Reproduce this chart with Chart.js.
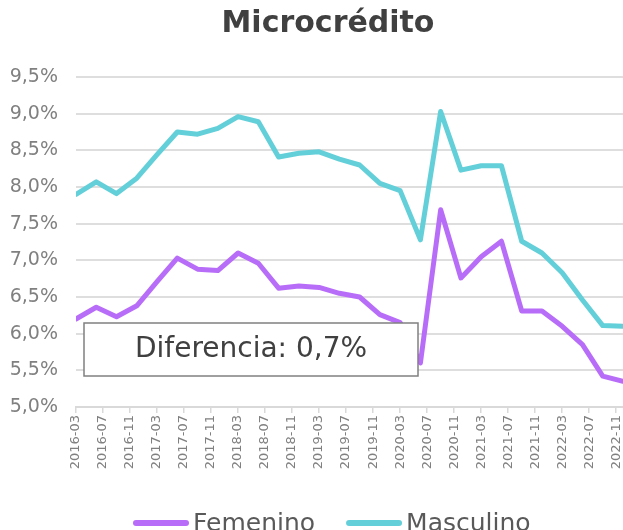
<!DOCTYPE html>
<html>
<head>
<meta charset="utf-8">
<script src="https://cdn.jsdelivr.net/npm/chart.js@4"></script>
<style>
  html, body { margin: 0; padding: 0; background: #fff; }
  #wrap { width: 623px; height: 530px; }
</style>
</head>
<body>
<div id="wrap"><canvas id="grafico" width="623" height="530"></canvas></div>
<script>
const fechas = [
  "2016-03", "2016-06", "2016-09", "2016-12",
  "2017-03", "2017-06", "2017-09", "2017-12",
  "2018-03", "2018-06", "2018-09", "2018-12",
  "2019-03", "2019-06", "2019-09", "2019-12",
  "2020-03", "2020-06", "2020-09", "2020-12",
  "2021-03", "2021-06", "2021-09", "2021-12",
  "2022-03", "2022-06", "2022-09", "2022-12",
];
const femenino = [
  6.2, 6.36, 6.23, 6.38, 6.71, 7.03, 6.88, 6.86, 7.1, 6.96, 6.62, 6.65, 6.63, 6.55,
  6.5, 6.26, 6.15, 5.6, 7.69, 6.76, 7.05, 7.26, 6.31, 6.31, 6.1, 5.85, 5.42, 5.35,
];
const masculino = [
  7.9, 8.07, 7.91, 8.12, 8.44, 8.75, 8.72, 8.8, 8.96, 8.89, 8.41, 8.46, 8.48, 8.38,
  8.3, 8.05, 7.95, 7.28, 9.03, 8.23, 8.29, 8.29, 7.26, 7.1, 6.83, 6.46, 6.11, 6.1,
];
const etiquetasX = [
  "2016-03", "2016-07", "2016-11", "2017-03", "2017-07", "2017-11", "2018-03",
  "2018-07", "2018-11", "2019-03", "2019-07", "2019-11", "2020-03", "2020-07",
  "2020-11", "2021-03", "2021-07", "2021-11", "2022-03", "2022-07", "2022-11",
];
const ticksY = [5, 5.5, 6, 6.5, 7, 7.5, 8, 8.5, 9, 9.5];

const fuente = "'DejaVu Sans', sans-serif";

// meses desde 2016-03
const mesIdx = (s) => {
  const [a, m] = s.split("-").map(Number);
  return (a - 2016) * 12 + (m - 3);
};

const serie = (valores) => valores.map((v, i) => ({ x: mesIdx(fechas[i]), y: v }));

const cuadroDiferencia = {
  id: "cuadroDiferencia",
  afterDatasetsDraw(chart) {
    const c = chart.ctx;
    c.save();
    c.fillStyle = "#ffffff";
    c.fillRect(84, 323, 334, 53);
    c.strokeStyle = "#808080";
    c.lineWidth = 1.5;
    c.strokeRect(84, 323, 334, 53);
    c.fillStyle = "#404040";
    c.font = "28px " + fuente;
    c.textAlign = "center";
    c.textBaseline = "middle";
    c.fillText("Diferencia: 0,7%", 251, 350);
    c.restore();
  },
};

// leyenda abajo, cortada por el borde como en el original
const leyendaAbajo = {
  id: "leyendaAbajo",
  afterDraw(chart) {
    const c = chart.ctx;
    c.save();
    c.font = "25px " + fuente;
    c.textBaseline = "alphabetic";
    c.textAlign = "left";
    let x = 133;
    chart.data.datasets.forEach((ds) => {
      c.strokeStyle = ds.borderColor;
      c.lineWidth = 6;
      c.lineCap = "round";
      c.beginPath();
      c.moveTo(x + 3, 523);
      c.lineTo(x + 53, 523);
      c.stroke();
      x += 60;
      c.fillStyle = "#595959";
      c.fillText(ds.label, x, 531);
      x += c.measureText(ds.label).width + 31;
    });
    c.restore();
  },
};

// el título va un poco a la derecha del centro
const moverTitulo = {
  id: "moverTitulo",
  afterLayout(chart) {
    if (chart.titleBlock) chart.titleBlock.left += 25;
  },
};

new Chart(document.getElementById("grafico"), {
  type: "line",
  data: {
    datasets: [
      {
        label: "Femenino",
        data: serie(femenino),
        borderColor: "#b86df8",
        borderWidth: 5,
        pointRadius: 0,
        tension: 0,
        borderJoinStyle: "round",
        borderCapStyle: "round",
      },
      {
        label: "Masculino",
        data: serie(masculino),
        borderColor: "#63cfd9",
        borderWidth: 5,
        pointRadius: 0,
        tension: 0,
        borderJoinStyle: "round",
        borderCapStyle: "round",
      },
    ],
  },
  plugins: [moverTitulo, cuadroDiferencia, leyendaAbajo],
  options: {
    responsive: false,
    animation: false,
    layout: { padding: { left: 8, right: 0, top: 0, bottom: 53 } },
    plugins: {
      tooltip: { enabled: false },
      legend: { display: false },
      title: {
        display: true,
        text: "Microcrédito",
        color: "#404040",
        font: { family: fuente, size: 30, weight: "bold" },
        padding: { top: 6, bottom: 35 },
      },
    },
    scales: {
      x: {
        type: "linear",
        min: 0,
        max: mesIdx(fechas[fechas.length - 1]),
        afterBuildTicks: (axis) => {
          axis.ticks = etiquetasX.map((s) => ({ value: mesIdx(s) }));
        },
        afterFit: (axis) => {
          axis.paddingLeft = 0;
          axis.paddingRight = 0;
          axis.height = 70;
        },
        grid: {
          drawOnChartArea: false,
          drawTicks: true,
          tickLength: 6,
          color: "#d9d9d9",
          lineWidth: 1.5,
        },
        border: { display: true, color: "#d9d9d9", width: 2 },
        ticks: {
          autoSkip: false,
          maxRotation: 90,
          minRotation: 90,
          padding: 2,
          color: "#808080",
          font: { family: fuente, size: 13 },
          callback: (v) => etiquetasX.find((s) => mesIdx(s) === v) || "",
        },
      },
      y: {
        min: 5,
        max: 9.5,
        afterBuildTicks: (axis) => {
          axis.ticks = ticksY.map((v) => ({ value: v }));
        },
        afterFit: (axis) => {
          axis.width = 68;
          axis.paddingTop = 0;
          axis.paddingBottom = 0;
        },
        grid: { color: "#dedede", lineWidth: 2, drawTicks: false },
        border: { display: false },
        ticks: {
          padding: 18,
          color: "#808080",
          font: { family: fuente, size: 19 },
          callback: (v) => v.toFixed(1).replace(".", ",") + "%",
        },
      },
    },
  },
});
</script>
</body>
</html>
